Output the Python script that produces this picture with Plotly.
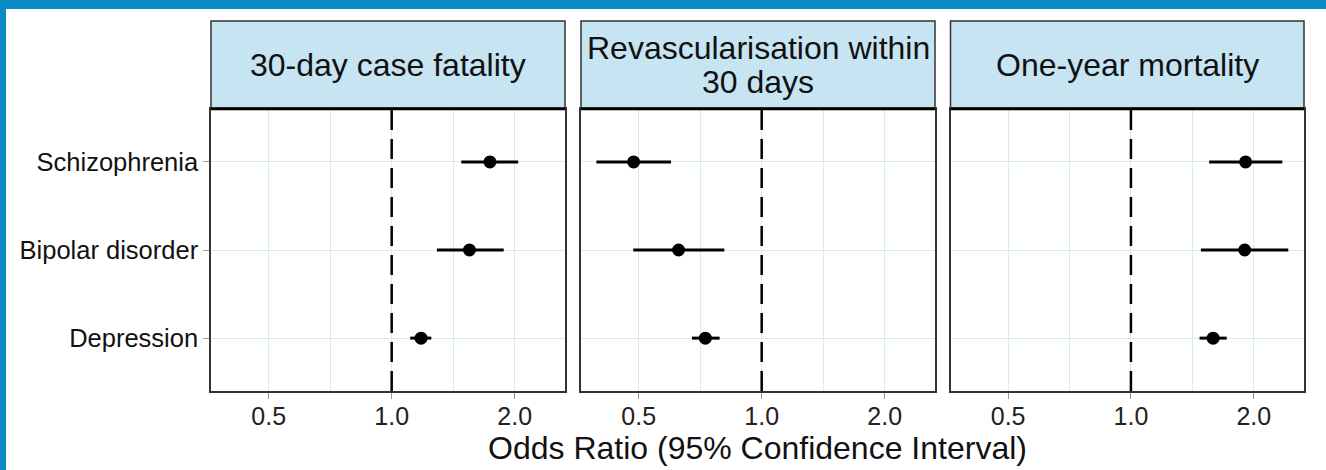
import plotly.graph_objects as go

W, H = 1326, 470

conditions = ["Schizophrenia", "Bipolar disorder", "Depression"]
panels = [["30-day case fatality"], ["Revascularisation within", "30 days"], ["One-year mortality"]]

or_fatality = [1.74, 1.55, 1.18]
lo_fatality = [1.48, 1.29, 1.11]
hi_fatality = [2.04, 1.88, 1.25]

or_revasc = [0.486, 0.626, 0.728]
lo_revasc = [0.394, 0.485, 0.675]
hi_revasc = [0.600, 0.810, 0.789]

or_mortality = [1.91, 1.90, 1.59]
lo_mortality = [1.555, 1.484, 1.473]
hi_mortality = [2.35, 2.43, 1.717]

tick_vals = [0.5, 1.0, 2.0]
tick_text = ["0.5", "1.0", "2.0"]
minor_vals = [0.7071, 1.4142]

data = [(or_fatality, lo_fatality, hi_fatality),
        (or_revasc, lo_revasc, hi_revasc),
        (or_mortality, lo_mortality, hi_mortality)]

def px(x):
    return x / W

def py(y):
    return 1 - y / H

x_domains = [(211, 565), (581, 935), (950.5, 1304)]
y_top, y_bot = 109, 391
strip_top = 21

fig = go.Figure()
grid_col = "#d5eaf5"
font_family = "Liberation Sans, Arial, sans-serif"

for i, (vals, lo, hi) in enumerate(data):
    xa = "x" if i == 0 else f"x{i+1}"
    ya = "y" if i == 0 else f"y{i+1}"
    fig.add_trace(go.Scatter(
        x=vals, y=conditions, mode="markers",
        marker=dict(color="black", size=13),
        error_x=dict(type="data", symmetric=False,
                     array=[h - v for h, v in zip(hi, vals)],
                     arrayminus=[v - l for v, l in zip(vals, lo)],
                     color="black", thickness=3, width=0),
        xaxis=xa, yaxis=ya, showlegend=False))
    # reference line at OR = 1
    fig.add_shape(type="line", xref=xa, yref=f"{ya} domain",
                  x0=1, x1=1, y0=0, y1=1,
                  line=dict(color="black", width=2.5, dash="20px,9px"))
    d = x_domains[i]
    axkey = "xaxis" if i == 0 else f"xaxis{i+1}"
    aykey = "yaxis" if i == 0 else f"yaxis{i+1}"
    fig.layout[axkey] = dict(
        domain=[px(d[0]), px(d[1])], type="log",
        range=[-1.469 * 0.30103, 1.409 * 0.30103],
        tickvals=tick_vals, ticktext=tick_text,
        showgrid=True, gridcolor=grid_col, gridwidth=1,
        minor=dict(tickvals=minor_vals, showgrid=True, gridcolor=grid_col, gridwidth=1, ticks=""),
        ticks="outside", ticklen=6, tickcolor="#999999", tickwidth=1,
        ticklabelstandoff=-4,
        showline=True, mirror=True, linecolor="#333333", linewidth=1.5,
        tickfont=dict(size=25, color="#222222", family=font_family),
        zeroline=False, anchor=ya)
    fig.layout[aykey] = dict(
        domain=[py(y_bot), py(y_top)], type="category",
        categoryarray=conditions[::-1], categoryorder="array",
        range=[-0.6, 2.6],
        showgrid=True, gridcolor=grid_col, gridwidth=1,
        showline=True, mirror=True, linecolor="#333333", linewidth=1.5,
        ticks="outside" if i == 0 else "", ticklen=6, tickcolor="#999999",
        showticklabels=(i == 0), ticklabelstandoff=0,
        tickfont=dict(size=25.5, color="#111111", family=font_family),
        zeroline=False, anchor=xa)
    # strip
    fig.add_shape(type="rect", xref="paper", yref="paper",
                  x0=px(d[0]), x1=px(d[1]), y0=py(y_top), y1=py(strip_top),
                  fillcolor="#c7e4f2", line=dict(color="#333333", width=1.5), layer="below")
    fig.add_shape(type="line", xref="paper", yref="paper",
                  x0=px(d[0]), x1=px(d[1]), y0=py(y_top), y1=py(y_top),
                  line=dict(color="black", width=2.5))
    lines = panels[i]
    centre = (y_top + strip_top) / 2
    spacing = 35
    n = len(lines)
    for k, txt in enumerate(lines):
        yc = centre + (k - (n - 1) / 2) * spacing
        fig.add_annotation(text=txt, xref="paper", yref="paper",
                           x=(px(d[0]) + px(d[1])) / 2, y=py(yc),
                           xanchor="center", yanchor="middle", showarrow=False,
                           font=dict(size=32, color="#111111", family=font_family))

# x-axis title
fig.add_annotation(text="Odds Ratio (95% Confidence Interval)", xref="paper", yref="paper",
                   x=px(757), y=py(448), xanchor="center", yanchor="middle", showarrow=False,
                   font=dict(size=32, color="#111111", family=font_family))

# blue frame
fig.add_shape(type="rect", xref="paper", yref="paper", x0=0, x1=1, y0=py(9), y1=1,
              fillcolor="#0a8bc8", line=dict(width=0))
fig.add_shape(type="rect", xref="paper", yref="paper", x0=0, x1=px(6), y0=0, y1=1,
              fillcolor="#0a8bc8", line=dict(width=0))

fig.update_layout(width=W, height=H, margin=dict(l=0, r=0, t=0, b=0),
                  paper_bgcolor="white", plot_bgcolor="white",
                  font=dict(family=font_family))

fig.write_html("out.html", config={"displayModeBar": False},
               post_script="document.body.style.margin='0';document.body.style.overflow='hidden';")
